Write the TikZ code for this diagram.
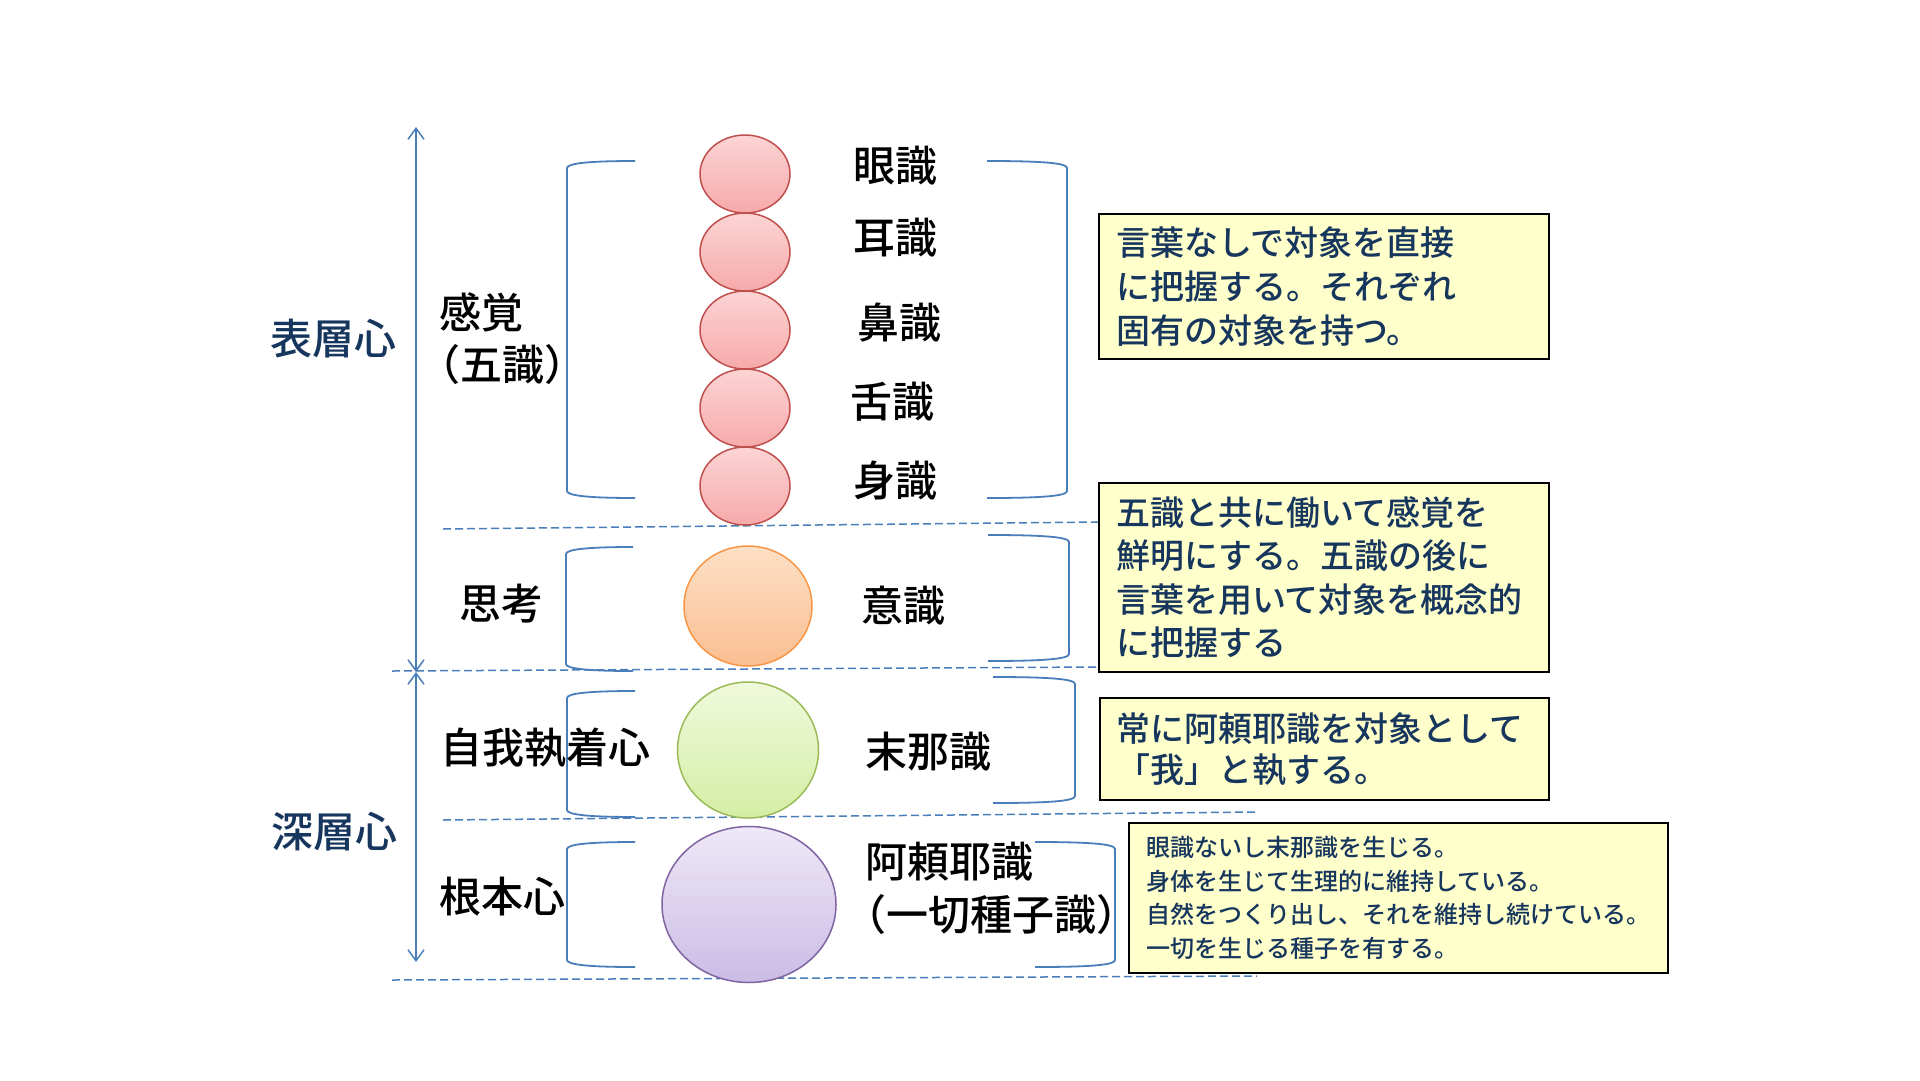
\documentclass[tikz,border=0pt]{standalone}
\usepackage{fontspec}
\setmainfont{Noto Sans CJK JP}
\newfontfamily\jpr{Noto Sans CJK JP}
\newfontfamily\jpm{Noto Sans CJK JP Medium}
\newfontfamily\jpb{Noto Sans CJK JP Bold}
\usetikzlibrary{arrows.meta,shapes.geometric}
\definecolor{lineblue}{RGB}{74,126,187}
\definecolor{navy}{RGB}{23,54,93}
\definecolor{boxfill}{RGB}{255,255,204}
\definecolor{pinkT}{RGB}{252,212,212}
\definecolor{pinkB}{RGB}{247,170,170}
\definecolor{pinkD}{RGB}{192,80,77}
\definecolor{orT}{RGB}{253,224,198}
\definecolor{orB}{RGB}{250,190,145}
\definecolor{orD}{RGB}{247,150,70}
\definecolor{grT}{RGB}{240,249,220}
\definecolor{grB}{RGB}{212,238,165}
\definecolor{grD}{RGB}{155,187,89}
\definecolor{puT}{RGB}{238,232,247}
\definecolor{puB}{RGB}{203,188,230}
\definecolor{puD}{RGB}{128,100,162}
\tikzset{
  brk/.style={draw=lineblue, line width=1.8pt},
  vline/.style={draw=lineblue, line width=1.5pt},
  dline/.style={draw=lineblue, line width=1.5pt, dash pattern=on 8pt off 4pt},
  lab/.style={inner sep=0pt, font=\jpm\fontsize{42}{50}\selectfont, text=black},
  layer/.style={inner sep=0pt, font=\jpm\fontsize{42}{50}\selectfont, text=navy},
  infobox/.style={draw=black, line width=1.5pt, fill=boxfill, align=left, text=navy, inner xsep=17pt, inner ysep=0pt},
  orb/.style={ellipse, inner sep=0pt, line width=1.5pt},
  tipb/.tip={Straight Barb[length=11pt,width=16pt]}
}
\newcommand\myLbr[4]{% X, E, T, B
  \draw[brk] (#2,#3) .. controls (#1+25,#3) and (#1,#3+2) .. (#1,#3+7) -- (#1,#4-7) .. controls (#1,#4-2) and (#1+25,#4) .. (#2,#4);}
\newcommand\myRbr[4]{% X, E, T, B
  \draw[brk] (#2,#3) .. controls (#1-25,#3) and (#1,#3+2) .. (#1,#3+7) -- (#1,#4-7) .. controls (#1,#4-2) and (#1-25,#4) .. (#2,#4);}
\begin{document}
\begin{tikzpicture}[x=1pt,y=-1pt]
\useasboundingbox (0,0) rectangle (1920,1080);
\fill[white] (0,0) rectangle (1920,1080);

% vertical arrows
\coordinate (atop) at (416,127);
\coordinate (amid) at (416,672);
\coordinate (abot) at (416,962);
\draw[vline, tipb-tipb] (atop) -- (amid);
\draw[vline, tipb-tipb] (amid) -- (abot);

% dashed separators
\coordinate (d1a) at (443,529); \coordinate (d1b) at (1098,522);
\coordinate (d2a) at (392,671); \coordinate (d2b) at (1098,667);
\coordinate (d3a) at (443,820); \coordinate (d3b) at (1257,812);
\coordinate (d4a) at (392,980); \coordinate (d4b) at (1257,976);
\draw[dline] (d1a) -- (d1b);
\draw[dline] (d2a) -- (d2b);
\draw[dline] (d3a) -- (d3b);
\draw[dline] (d4a) -- (d4b);

% brackets
\myLbr{567}{635}{161}{498}
\myRbr{1067}{987}{161}{498}
\myLbr{566}{633}{547}{671}
\myRbr{1069}{988}{535}{661}
\myLbr{567}{635}{691}{817}
\myRbr{1075}{993}{677}{803}
\myLbr{567}{635}{842}{967}
\myRbr{1115}{1035}{842}{967}

% orbs
\node[orb, draw=pinkD, top color=pinkT, bottom color=pinkB, minimum width=90pt, minimum height=78pt] (e1) at (745,174) {};
\node[orb, draw=pinkD, top color=pinkT, bottom color=pinkB, minimum width=90pt, minimum height=78pt] (e2) at (745,252) {};
\node[orb, draw=pinkD, top color=pinkT, bottom color=pinkB, minimum width=90pt, minimum height=78pt] (e3) at (745,330) {};
\node[orb, draw=pinkD, top color=pinkT, bottom color=pinkB, minimum width=90pt, minimum height=78pt] (e4) at (745,408) {};
\node[orb, draw=pinkD, top color=pinkT, bottom color=pinkB, minimum width=90pt, minimum height=78pt] (e5) at (745,486) {};
\node[orb, draw=orD, top color=orT, bottom color=orB, minimum width=128pt, minimum height=120pt] (eo) at (748,606) {};
\node[orb, draw=grD, top color=grT, bottom color=grB, minimum width=141pt, minimum height=136pt] (eg) at (748,750) {};
\node[orb, draw=puD, top color=puT, bottom color=puB, minimum width=174pt, minimum height=156pt] (ep) at (749,904.5) {};

% layer labels
\node[layer] (surf) at (333,339) {表層心};
\node[layer] (deep) at (334,832) {深層心};

% left labels
\node[lab] (kan) at (481,312.5) {感覚};
\node[lab] (goshiki) at (502,365) {（五識）};
\node[lab] (shiko) at (501,604) {思考};
\node[lab] (jiga) at (545,748) {自我執着心};
\node[lab] (konpon) at (502,897) {根本心};

% right labels
\node[lab] (s1) at (895,166) {眼識};
\node[lab] (s2) at (895,238) {耳識};
\node[lab] (s3) at (899,323) {鼻識};
\node[lab] (s4) at (892,402) {舌識};
\node[lab] (s5) at (895,481) {身識};
\node[lab] (ishiki) at (903,606) {意識};
\node[lab] (mana) at (928,752) {末那識};
\node[lab] (araya) at (949,862) {阿頼耶識};
\node[lab] (issai) at (991,915) {（一切種子識）};

% info boxes
\node[infobox, minimum width=450pt, minimum height=145pt, text width=416pt,
  font=\jpm\fontsize{34}{44}\selectfont] (b1) at (1324,286.5)
  {言葉なしで対象を直接\\に把握する。それぞれ\\固有の対象を持つ。};
\node[infobox, minimum width=450pt, minimum height=189pt, text width=416pt,
  font=\jpm\fontsize{34}{43.5}\selectfont] (b2) at (1324,577.5)
  {五識と共に働いて感覚を\\鮮明にする。五識の後に\\言葉を用いて対象を概念的\\に把握する};
\node[infobox, minimum width=449pt, minimum height=102pt, text width=417pt, inner xsep=16pt,
  font=\jpm\fontsize{34}{41}\selectfont] (b3) at (1324.5,749)
  {常に阿頼耶識を対象として\\「我」と執する。};
\node[infobox, minimum width=539pt, minimum height=150pt, text width=505pt, inner xsep=17pt,
  font=\jpm\fontsize{24}{33.4}\selectfont] (b4) at (1398.5,898)
  {眼識ないし末那識を生じる。\\身体を生じて生理的に維持している。\\自然をつくり出し、それを維持し続けている。\\一切を生じる種子を有する。};
\end{tikzpicture}
\end{document}
